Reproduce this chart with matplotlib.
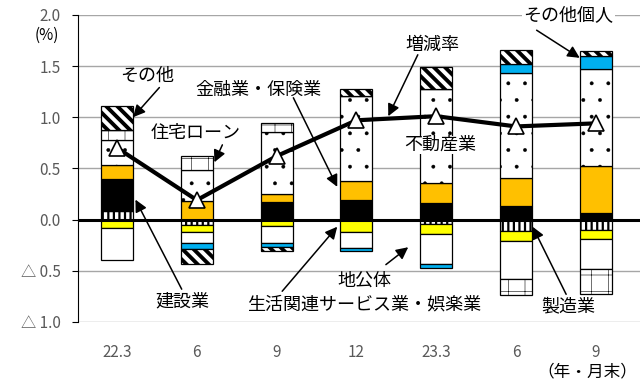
import numpy as np
import matplotlib
matplotlib.use("Agg")
from matplotlib import pyplot as plt

plt.rcParams['font.family'] = ['Noto Sans CJK JP', 'DejaVu Sans']

periods = ['22.3', '6', '9', '12', '23.3', '6', '9']

# series in stacking order (Excel stacks +/- separately in this order)
seizo = [0.08, -0.05, 0.0, 0.0, -0.04, -0.11, -0.10]        # 製造業
kensetsu = [0.32, 0.0, 0.17, 0.195, 0.16, 0.13, 0.06]        # 建設業
seikatsu = [-0.08, -0.07, -0.06, -0.12, -0.10, -0.10, -0.085]  # 生活関連サービス業・娯楽業
kinyu = [0.13, 0.18, 0.08, 0.18, 0.195, 0.28, 0.46]          # 金融業・保険業
chikoutai = [-0.31, -0.11, -0.17, -0.16, -0.29, -0.37, -0.30]  # 地公体
fudosan = [0.25, 0.30, 0.61, 0.835, 0.92, 1.02, 0.95]        # 不動産業
jutaku = [0.10, 0.14, 0.08, 0.0, 0.0, -0.16, -0.24]          # 住宅ローン
kojin = [0.0, -0.06, -0.04, -0.03, -0.04, 0.09, 0.13]        # その他個人
sonota = [0.23, -0.14, -0.04, 0.07, 0.22, 0.14, 0.05]        # その他
zougen = [0.70, 0.19, 0.62, 0.97, 1.01, 0.91, 0.94]          # 増減率

series = [
    (seizo, 'white', '|||', 1.6),
    (kensetsu, 'black', None, 1.0),
    (seikatsu, '#FFFF00', None, 1.0),
    (kinyu, '#FFC000', None, 1.0),
    (chikoutai, 'white', None, 1.0),
    (fudosan, 'white', '.', 0.3),
    (jutaku, 'white', '+', 0.4),
    (kojin, '#00B0F0', None, 1.0),
    (sonota, 'white', '\\\\\\', 2.8),
]

fig = plt.figure(figsize=(6.41, 3.81), dpi=100)
ax = fig.add_axes([0.1217, 0.155, 0.876, 0.806])

x = np.arange(len(periods))
pos = np.zeros(len(periods))
neg = np.zeros(len(periods))
for vals, col, hatch, hlw in series:
    v = np.array(vals)
    bottom = np.where(v >= 0, pos, neg)
    with plt.rc_context({'hatch.linewidth': hlw}):
        ax.bar(x, v, 0.40, bottom=bottom, color=col, edgecolor='black',
               linewidth=0.9, hatch=hatch, zorder=3)
    pos = pos + np.where(v > 0, v, 0)
    neg = neg + np.where(v < 0, v, 0)

ax.axhline(0, color='black', lw=2.2, zorder=4)
ax.plot(x, zougen, color='black', lw=3, marker='^', markersize=11,
        markerfacecolor='white', markeredgecolor='black', markeredgewidth=1.2, zorder=5)

ax.set_xlim(-0.49, 6.55)
ax.set_ylim(-1.0, 2.0)
ax.set_yticks([-1.0, -0.5, 0, 0.5, 1.0, 1.5, 2.0])
ax.set_yticklabels(['△ 1.0', '△ 0.5', '0.0', '0.5', '1.0', '1.5', '2.0'])
ax.set_xticks(x)
ax.set_xticklabels(periods)
ax.yaxis.grid(True, color='#A6A6A6', lw=1)
ax.set_axisbelow(True)
for s in ['top', 'right', 'bottom']:
    ax.spines[s].set_visible(False)
ax.spines['left'].set_color('black')
ax.tick_params(axis='y', labelcolor='#595959', color='black', labelsize=11, length=4.5, pad=8)
ax.tick_params(axis='x', labelcolor='#595959', labelsize=11, length=0, pad=16)

fig.text(0.073, 0.908, '(%)', fontsize=11, ha='center', va='center', color='black')
fig.text(0.916, 0.024, '（年・月末）', fontsize=12, ha='center', va='center')

fs = 13
arrow = dict(arrowstyle='-|>', color='black', lw=1.1, mutation_scale=18,
             shrinkA=0, shrinkB=0)

ax.text(0.376, 1.40, 'その他', fontsize=fs, ha='center', va='center', zorder=6)
ax.annotate('', xy=(0.20, 1.0), xytext=(0.53, 1.29), arrowprops=arrow, zorder=6)

ax.text(0.99, 0.85, '住宅ローン', fontsize=fs, ha='center', va='center', zorder=6)
ax.annotate('', xy=(1.22, 0.56), xytext=(1.32, 0.73), arrowprops=arrow, zorder=6)

ax.text(1.77, 1.27, '金融業・保険業', fontsize=fs, ha='center', va='center', zorder=6)
ax.annotate('', xy=(2.76, 0.32), xytext=(2.21, 1.19), arrowprops=arrow, zorder=6)

ax.text(3.95, 1.71, '増減率', fontsize=fs, ha='center', va='center', zorder=6)
ax.annotate('', xy=(3.40, 1.01), xytext=(3.77, 1.61), arrowprops=arrow, zorder=6)

ax.text(4.05, 0.73, '不動産業', fontsize=fs, ha='center', va='center', zorder=6,
        bbox=dict(facecolor='white', edgecolor='none', pad=0))

ax.text(5.66, 2.0, 'その他個人', fontsize=fs, ha='center', va='center', zorder=6,
        bbox=dict(facecolor='white', edgecolor='none', pad=1), clip_on=False)
ax.annotate('', xy=(5.80, 1.58), xytext=(5.26, 1.85), arrowprops=arrow, zorder=6)

ax.text(0.82, -0.80, '建設業', fontsize=fs, ha='center', va='center', zorder=6)
ax.annotate('', xy=(0.23, 0.195), xytext=(0.81, -0.68), arrowprops=arrow, zorder=6)

ax.text(3.10, -0.60, '地公体', fontsize=fs, ha='center', va='center', zorder=6)
ax.annotate('', xy=(3.65, -0.27), xytext=(3.37, -0.44), arrowprops=arrow, zorder=6)

ax.text(3.10, -0.83, '生活関連サービス業・娯楽業', fontsize=fs, ha='center', va='center', zorder=6)
ax.annotate('', xy=(2.76, -0.07), xytext=(2.07, -0.70), arrowprops=arrow, zorder=6)

ax.text(5.66, -0.85, '製造業', fontsize=fs, ha='center', va='center', zorder=6)
ax.annotate('', xy=(5.21, -0.07), xytext=(5.63, -0.73), arrowprops=arrow, zorder=6)

fig.savefig('out.png', dpi=100)
